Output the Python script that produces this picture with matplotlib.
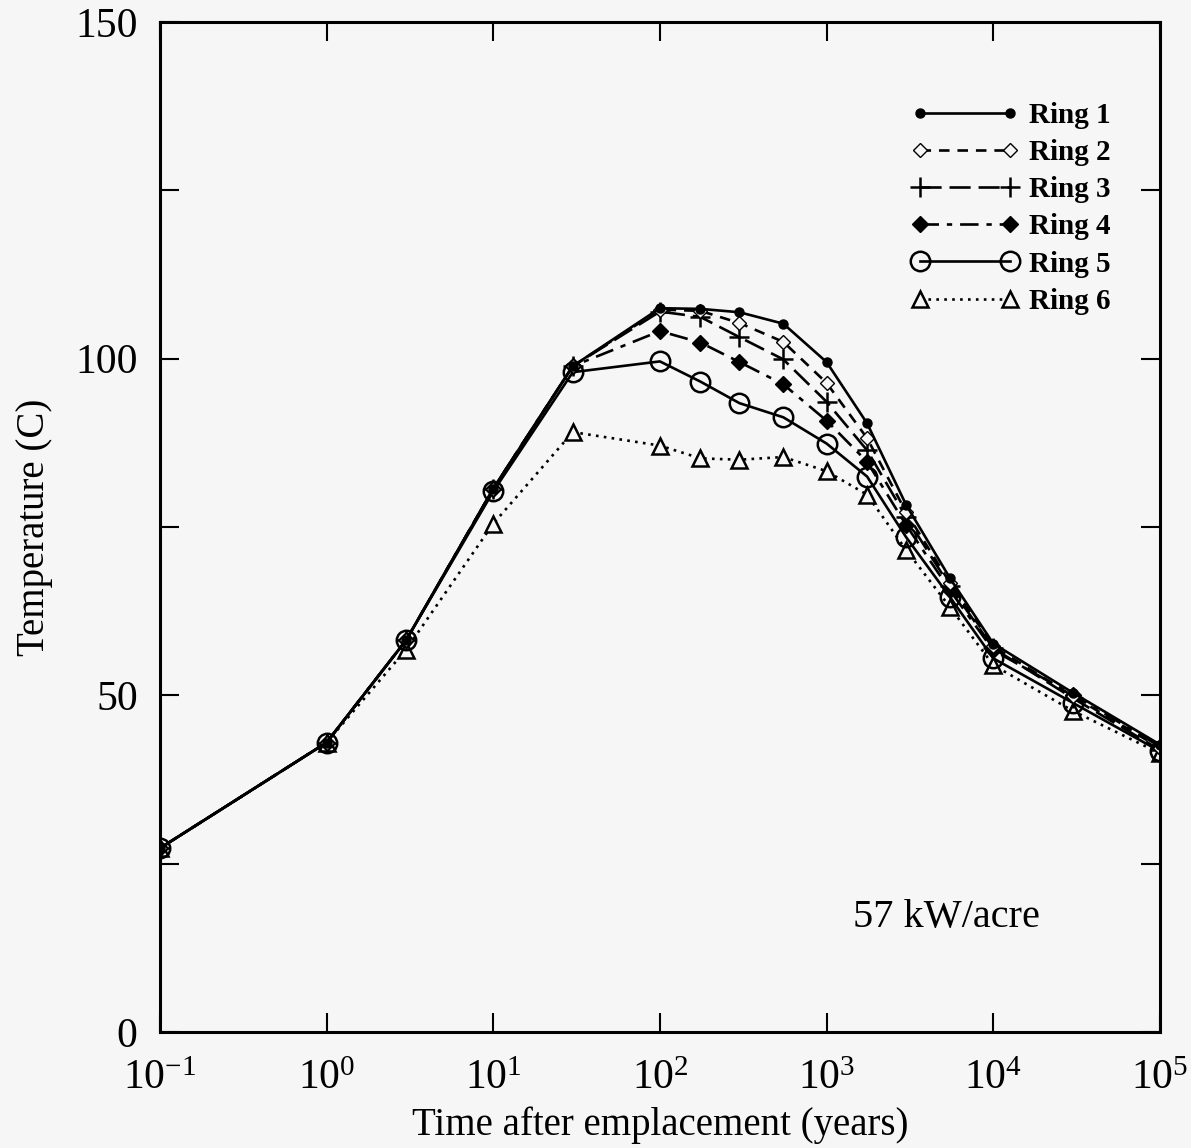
import numpy as np
import matplotlib
matplotlib.use('Agg')
import matplotlib.pyplot as plt


#------------------------------------------------------------------------------
#   Data
#------------------------------------------------------------------------------
years = [0.1, 1, 3, 10, 30, 100, 175, 300, 550, 1000, 1750, 3000, 5500, 10000, 30000, 100000]

ring_1 = [27.3, 43.0, 58.2, 80.7, 98.9, 107.5, 107.4, 106.9, 105.2, 99.5, 90.4, 78.3, 67.4, 57.7, 50.4, 42.7]
ring_2 = [27.3, 43.0, 58.2, 80.7, 98.9, 107.3, 107.1, 105.3, 102.5, 96.4, 88.2, 77.2, 66.7, 57.3, 49.9, 42.2]
ring_3 = [27.3, 43.0, 58.2, 80.7, 98.9, 107.0, 106.2, 103.2, 99.9, 93.6, 86.4, 76.5, 66.2, 57.0, 49.6, 41.9]
ring_4 = [27.3, 43.0, 58.2, 80.7, 98.9, 104.1, 102.4, 99.5, 96.2, 90.8, 84.7, 75.3, 65.6, 56.7, 50.1, 42.4]
ring_5 = [27.3, 43.0, 58.2, 80.3, 98.0, 99.6, 96.6, 93.4, 91.3, 87.4, 82.5, 73.5, 64.6, 55.5, 48.9, 41.7]
ring_6 = [27.3, 43.0, 56.8, 75.5, 89.1, 87.1, 85.2, 85.0, 85.4, 83.3, 79.8, 71.6, 63.1, 54.5, 47.7, 41.4]

ring_labels = ['Ring 1', 'Ring 2', 'Ring 3', 'Ring 4', 'Ring 5', 'Ring 6']

x_ticks = [1e-1, 1e0, 1e1, 1e2, 1e3, 1e4, 1e5]
x_tick_labels = [r'$10^{-1}$', r'$10^{0}$', r'$10^{1}$', r'$10^{2}$', r'$10^{3}$', r'$10^{4}$', r'$10^{5}$']
y_ticks = [0, 50, 100, 150]


#------------------------------------------------------------------------------
#   Style
#------------------------------------------------------------------------------
plt.rcParams['font.family'] = ['Liberation Serif', 'DejaVu Serif']
plt.rcParams['mathtext.fontset'] = 'custom'
plt.rcParams['mathtext.rm'] = 'Liberation Serif'
plt.rcParams['mathtext.it'] = 'Liberation Serif'

bg = '#f6f6f6'
fig = plt.figure(figsize=(11.91, 11.48), dpi=100, facecolor=bg)
ax = fig.add_axes([0.1343, 0.101, 0.8396, 0.8798], facecolor=bg)

styles = [
    dict(ls='-', marker='o', ms=6.5, mfc='black'),
    dict(ls=(0, (4, 3)), marker='D', ms=7.5, mfc=bg),
    dict(ls=(0, (8, 3)), marker='+', ms=15, mew=1.8),
    dict(ls=(0, (7, 3, 2, 3)), marker='D', ms=8.5, mfc='black'),
    dict(ls='-', marker='o', ms=14, mfc='none', mew=1.8),
    dict(ls=(0, (1, 2)), marker='^', ms=12, mfc=bg, mew=1.8),
]
series = [ring_1, ring_2, ring_3, ring_4, ring_5, ring_6]

# draw ring 6 first so the solid lines sit on top
for vals, st, lab in reversed(list(zip(series, styles, ring_labels))):
    ax.plot(years, vals, color='black', lw=1.9, label=lab, **st)

ax.set_xscale('log')
ax.set_xlim(1e-1, 1e5)
ax.set_ylim(0, 150)
ax.set_xticks(x_ticks)
ax.set_xticklabels(x_tick_labels)
ax.minorticks_off()
ax.set_yticks(y_ticks)
ax.set_yticks([25, 75, 125], minor=True)

ax.tick_params(which='both', direction='in', top=True, right=True, width=1.5,
               labelsize=30, length=14)
ax.tick_params(axis='x', pad=20)
ax.tick_params(axis='y', pad=16)
for sp in ax.spines.values():
    sp.set_linewidth(2.2)

ax.set_xlabel('Time after emplacement (years)', fontsize=28, labelpad=6)
ax.set_ylabel('Temperature (C)', fontsize=28, labelpad=16)

ax.text(0.693, 0.113, '57 kW/acre', transform=ax.transAxes, fontsize=29, va='center')

handles, labels = ax.get_legend_handles_labels()
ax.legend(handles[::-1], labels[::-1], loc='upper right', bbox_to_anchor=(0.977, 0.947),
          frameon=False, numpoints=2, handlelength=3.7, handletextpad=0.35,
          labelspacing=0.35, prop={'weight': 'bold', 'size': 21})

fig.savefig('out.png', dpi=100, facecolor=bg)
